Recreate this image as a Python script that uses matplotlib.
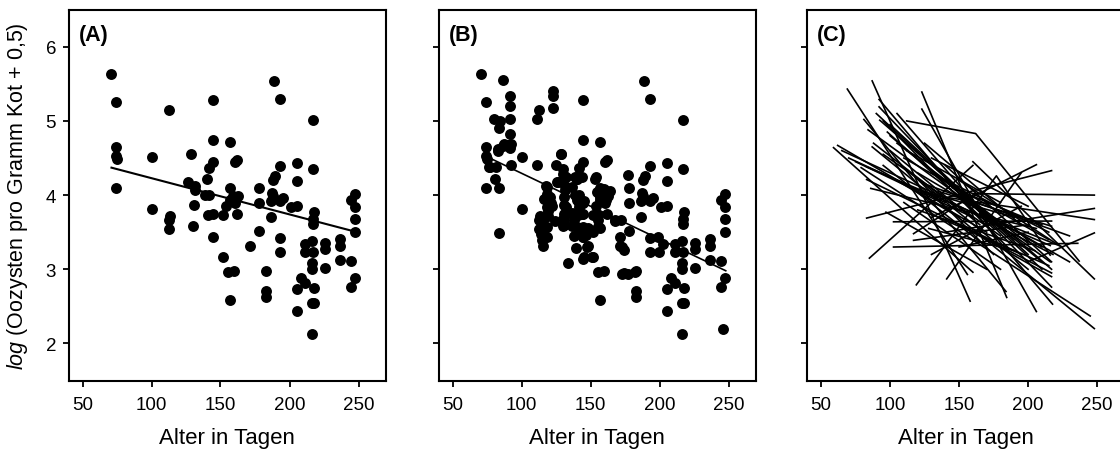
import matplotlib
matplotlib.use("Agg")
import matplotlib.pyplot as plt

plt.rcParams['font.family'] = ['Liberation Sans', 'DejaVu Sans']
plt.rcParams['mathtext.fontset'] = 'custom'
plt.rcParams['mathtext.rm'] = 'Liberation Sans'
plt.rcParams['mathtext.it'] = 'Liberation Sans:italic'

# ---------------- data ----------------
ages_a = [70.3, 74.6, 74, 74, 75, 74, 100.7, 100.7, 112.5, 113.3,
          113, 112.5, 128.5, 126.5, 131.3, 131.3, 131, 130, 144.6, 144.6,
          144.6, 141.4, 140.5, 139, 141.7, 141, 144.6, 144.6, 151.9, 151.5,
          156.7, 156.7, 156.7, 154.3, 155.5, 159.6, 157.2, 160.3, 161.6, 159,
          162.8, 160.3, 161.6, 171.7, 177.8, 177.8, 177.8, 183.3, 183.3, 183.3,
          188.8, 192.9, 188.3, 189.5, 187, 188.3, 186.3, 186.5, 193.4, 192.9,
          195.4, 193.4, 193.4, 205.5, 205.5, 201.4, 205.7, 205.5, 205.5, 208.6,
          211.5, 217.1, 217.1, 217.6, 217.1, 217.1, 211.5, 211.5, 216.6, 217.1,
          216.6, 216.6, 217.6, 216.6, 218, 216.6, 225.6, 225.6, 225.6, 236.4,
          236.4, 236.4, 244.9, 247.8, 247.8, 247.8, 247.8, 244.9, 244.9, 247.8]
vals_a = [5.63, 5.25, 4.65, 4.53, 4.49, 4.09, 4.51, 3.81, 5.15, 3.72,
          3.66, 3.54, 4.55, 4.17, 4.12, 4.07, 3.86, 3.59, 5.28, 4.74,
          4.44, 4.36, 4.22, 4.00, 4.00, 3.73, 3.75, 3.44, 3.73, 3.16,
          4.71, 4.10, 3.94, 3.85, 2.96, 2.98, 2.58, 4.44, 4.48, 3.99,
          3.99, 3.90, 3.74, 3.32, 4.10, 3.90, 3.52, 2.98, 2.71, 2.63,
          5.54, 5.29, 4.21, 4.26, 4.03, 3.99, 3.92, 3.71, 4.39, 3.92,
          3.96, 3.42, 3.23, 4.43, 4.19, 3.84, 3.85, 2.73, 2.44, 2.88,
          2.82, 5.01, 4.35, 3.77, 3.68, 3.61, 3.34, 3.23, 3.38, 3.23,
          3.09, 3.00, 2.75, 2.54, 2.54, 2.13, 3.35, 3.27, 3.02, 3.41,
          3.32, 3.12, 3.93, 4.02, 3.84, 3.68, 3.50, 3.11, 2.76, 2.88]

ages_b_extra = [86.7, 91.5, 91.5, 79.9, 84.2, 91.5, 83.7, 92, 83.3, 86.9,
                91.5, 92.2, 77, 81.2, 80.5, 92.2, 83.7, 83.7, 111.3, 111.3,
                122.5, 122.5, 122.5, 130.1, 130.1, 118.1, 120.5, 121.7, 119.3, 119.3,
                115.7, 114.9, 114.2, 115, 115.7, 119.3, 130.1, 133.8, 132.6, 136.3,
                138.7, 141.8, 144.2, 141.8, 144.6, 145.5, 136.3, 140, 136.3, 140,
                143.6, 141.8, 139.2, 144.6, 148.2, 154.3, 155.5, 155.5, 156.7, 167.6,
                172, 174.3, 172.5, 177.3, 177.3, 199.8, 199, 202.6, 246.1, 89.6,
                87.4, 83.3, 76.1, 118.6, 118.6, 118.6, 118.6, 118.6, 118.6, 130.7,
                131.9, 131, 131, 131, 136.7, 137.9, 140.3, 142, 143, 143.5,
                144.6, 144.6, 145.1, 147.5, 151.2, 147, 155.5, 155.5, 168.1, 171.7,
                172.9, 174.1, 182.6, 153.6, 154.8, 157.2, 159.6, 160.9, 125.8, 140.3,
                128.3, 148, 138, 152, 122, 124, 116.5, 117, 125, 164]
vals_b_extra = [5.55, 5.33, 5.20, 5.03, 5.00, 5.03, 4.91, 4.82, 4.62, 4.66,
                4.63, 4.69, 4.38, 4.38, 4.22, 4.40, 4.09, 3.49, 4.40, 5.03,
                5.40, 5.33, 5.18, 4.35, 4.28, 4.12, 3.97, 3.90, 3.83, 3.79,
                3.66, 3.59, 3.48, 3.39, 3.32, 3.72, 3.68, 3.08, 4.25, 4.11,
                4.25, 4.25, 4.25, 3.90, 3.90, 3.92, 3.76, 3.73, 3.59, 3.57,
                3.55, 3.51, 3.29, 3.14, 3.31, 4.25, 3.73, 3.57, 3.55, 3.65,
                3.67, 3.26, 2.94, 2.94, 4.27, 3.23, 3.43, 3.34, 2.20, 4.67,
                4.69, 4.60, 4.38, 4.11, 4.02, 3.93, 3.84, 3.57, 3.43, 3.97,
                3.84, 3.75, 3.66, 3.60, 3.75, 3.66, 3.93, 3.84, 3.88, 3.75,
                3.57, 3.43, 3.16, 3.30, 3.16, 3.46, 3.66, 3.57, 3.66, 3.43,
                3.30, 2.95, 2.96, 4.22, 4.04, 3.97, 4.08, 3.93, 4.17, 4.22,
                4.55, 3.55, 3.45, 3.50, 3.85, 3.65, 3.95, 3.55, 4.40, 4.05]

ages_b = ages_a + ages_b_extra
vals_b = vals_a + vals_b_extra

# fitted regression lines (end points)
fit_a_x = [71, 247]
fit_a_y = [4.37, 3.51]
fit_b_x = [78, 248]
fit_b_y = [4.49, 2.98]

# panel C: individual trajectories (start / end)
c_x0 = [87, 123, 123, 69, 92, 92, 92.5, 81, 84, 59,
        62, 87, 79, 83, 83, 86, 83, 85, 97, 102.5,
        102.5, 117, 117, 130, 160, 140, 130, 200, 160, 100,
        105, 95, 110, 120, 115, 130, 125, 140, 145, 100,
        150, 130, 135, 110, 150, 165, 98, 95, 135, 118,
        141, 90, 95, 100, 105, 88, 70, 75, 65, 108,
        112, 125, 130, 140, 120, 128, 145, 155, 150, 160, 100]
c_y0 = [5.54, 5.39, 5.16, 5.43, 5.29, 5.19, 5.01, 5.02, 4.88, 4.64,
        4.67, 4.65, 4.37, 4.38, 4.21, 4.09, 3.69, 3.15, 3.77, 3.64,
        3.30, 3.48, 3.39, 3.70, 4.02, 3.50, 4.00, 3.10, 4.45, 4.95,
        4.70, 4.55, 4.50, 4.30, 4.10, 4.50, 4.15, 4.20, 3.90, 4.60,
        3.30, 3.20, 3.70, 3.90, 4.20, 3.75, 4.85, 4.40, 4.05, 4.25,
        2.87, 5.10, 5.00, 4.80, 5.10, 4.70, 4.50, 4.45, 4.60, 4.40,
        4.60, 4.70, 4.30, 4.40, 3.80, 3.55, 4.10, 3.90, 3.60, 3.50, 4.25]
c_x1 = [158, 184.5, 206, 156, 217.7, 217, 217, 184, 216, 160,
        170, 248, 245, 216, 195, 206, 217, 160, 170, 217,
        236, 160, 200, 206, 248, 248, 248, 248, 248, 190,
        200, 180, 215, 210, 190, 200, 230, 210, 218, 165,
        200, 195, 215, 180, 220, 225, 175, 170, 217, 175,
        195, 200, 185, 210, 175, 150, 140, 160, 135, 200,
        180, 195, 215, 217, 205, 190, 210, 230, 217, 217, 150]
c_y1 = [2.57, 2.62, 2.43, 2.93, 2.53, 2.76, 3.00, 2.70, 3.10, 2.96,
        3.50, 2.20, 2.37, 3.32, 3.20, 3.55, 4.33, 4.40, 3.00, 3.65,
        3.35, 4.00, 3.60, 4.41, 4.00, 3.82, 3.67, 3.49, 2.87, 3.40,
        3.35, 3.45, 3.40, 3.30, 3.70, 3.85, 3.45, 3.00, 3.20, 3.60,
        3.50, 3.85, 3.05, 3.00, 3.35, 3.30, 3.55, 3.30, 3.58, 3.20,
        4.30, 3.20, 3.30, 3.10, 3.60, 3.80, 3.90, 3.70, 4.00, 3.00,
        3.90, 3.60, 3.50, 3.10, 3.25, 3.25, 3.60, 3.10, 2.95, 2.90, 3.70]
# two trajectories with three measurements
c_kink1_x = [112, 162, 237]
c_kink1_y = [5.00, 4.83, 3.11]
c_kink2_x = [119, 177, 216]
c_kink2_y = [2.79, 4.26, 3.19]

x_ticks = [50, 100, 150, 200, 250]
y_ticks = [2, 3, 4, 5, 6]
panel_labels = ['(A)', '(B)', '(C)']
x_label = 'Alter in Tagen'
y_label = r'$\mathit{log}$ (Oozysten pro Gramm Kot + 0,5)'

# ---------------- figure ----------------
W, H = 1120, 460
fig = plt.figure(figsize=(W / 100, H / 100), dpi=100)

ax_w = 317.4 / W
ax_h = 370.8 / H
ax_b = (H - 381.5) / H
lefts = [68.7 / W, 438.7 / W, 807.3 / W]
axes = [fig.add_axes([l, ax_b, ax_w, ax_h]) for l in lefts]

FS_TICK = 13.5
FS_LAB = 16

for i, ax in enumerate(axes):
    ax.set_xlim(40, 270)
    ax.set_ylim(1.5, 6.5)
    ax.set_xticks(x_ticks)
    ax.set_yticks(y_ticks)
    for s in ax.spines.values():
        s.set_linewidth(1.5)
    ax.tick_params(direction='out', length=4, width=1.3, labelsize=FS_TICK,
                   top=False, right=False, pad=5)
    ax.tick_params(axis='x', pad=7)
    if i > 0:
        ax.tick_params(labelleft=False)
    ax.set_xlabel(x_label, fontsize=FS_LAB, labelpad=10)
    ax.text(0.031, 0.933, panel_labels[i], transform=ax.transAxes,
            fontsize=15.5, fontweight='bold', ha='left', va='center')

axes[0].set_ylabel(y_label, fontsize=15.5, labelpad=11)

# Panel A
axes[0].scatter(ages_a, vals_a, s=62, color='black', linewidths=0, zorder=3)
axes[0].plot(fit_a_x, fit_a_y, color='black', lw=1.5, zorder=2)

# Panel B
axes[1].scatter(ages_b, vals_b, s=62, color='black', linewidths=0, zorder=3)
axes[1].plot(fit_b_x, fit_b_y, color='black', lw=1.2, zorder=4)

# Panel C
for x0, y0, x1, y1 in zip(c_x0, c_y0, c_x1, c_y1):
    axes[2].plot([x0, x1], [y0, y1], color='black', lw=1.2)
axes[2].plot(c_kink1_x, c_kink1_y, color='black', lw=1.2)
axes[2].plot(c_kink2_x, c_kink2_y, color='black', lw=1.2)

fig.savefig('out.png', dpi=100)
